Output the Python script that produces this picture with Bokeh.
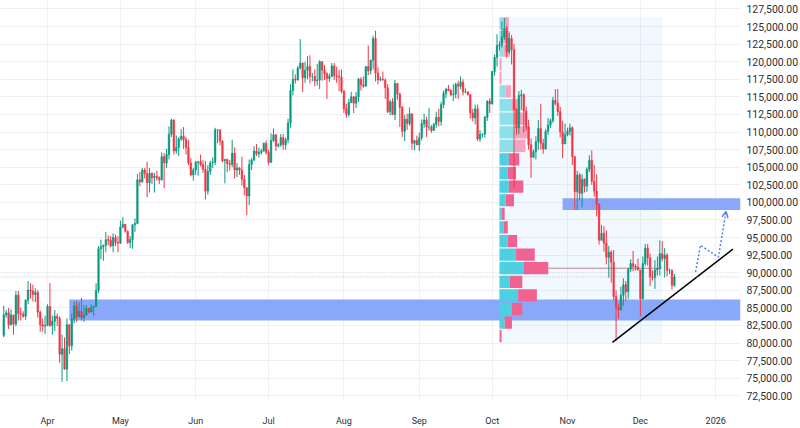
import numpy as np
import pandas as pd
from bokeh.plotting import figure
from bokeh.models import FixedTicker, NumeralTickFormatter, Range1d, Span, Arrow, OpenHead
from bokeh.embed import file_html
from bokeh.resources import INLINE

# ---------------- data (BTC/USD daily, values in thousands of USD) ----------------
start_date = "2025-03-14"
first_open = 81.1
closes = [
    84.0, 84.3, 82.6, 84.0, 82.7, 86.8, 84.2, 84.1, 83.8, 86.1, 87.5, 87.4, 86.9, 87.2, 84.4, 82.6, 82.4, 82.5,
    85.2, 82.5, 83.1, 83.8, 83.5, 78.4, 79.2, 76.3, 82.6, 79.6, 83.4, 85.3, 83.7, 84.5, 83.6, 84.0, 84.9, 84.4, 85.1, 85.2, 87.5, 93.4, 93.7, 93.9, 94.7, 94.6, 93.8, 95.0, 94.3, 94.2,
    96.5, 96.9, 95.9, 94.3, 94.7, 96.8, 97.0, 103.2, 102.9, 104.6, 104.1, 102.8, 104.1, 103.5, 103.7, 103.5, 103.2, 106.5, 105.6, 106.8, 109.7, 111.7, 107.3, 107.8, 109.0, 109.4, 108.9, 107.8, 105.6, 103.9, 104.6,
    105.7, 105.8, 105.4, 104.7, 101.6, 104.4, 105.6, 105.7, 110.3, 110.3, 108.7, 105.9, 106.1, 105.5, 105.4, 107.0, 104.6, 104.9, 104.6, 103.3, 102.1, 100.9, 105.4, 106.0, 107.3, 106.9, 107.1, 107.3, 108.4, 107.1,
    105.7, 108.8, 109.6, 108.0, 108.2, 109.2, 108.2, 108.9, 111.3, 115.9, 117.5, 117.4, 119.1, 119.8, 117.7, 118.8, 119.3, 117.9, 117.9, 117.3, 117.4, 120.0, 118.8, 118.3, 117.6, 117.9, 119.4, 118.0, 117.9, 117.8, 115.8,
    113.3, 112.5, 114.2, 115.0, 114.1, 115.0, 117.5, 116.7, 116.5, 119.3, 118.7, 120.2, 123.3, 118.4, 117.4, 117.5, 117.4, 116.3, 112.9, 114.3, 112.5, 116.9, 115.4, 113.5, 110.1, 111.8, 111.2, 112.6, 108.4, 108.8, 108.2,
    109.2, 111.2, 111.7, 110.7, 110.7, 110.2, 111.1, 112.1, 111.5, 113.9, 115.5, 116.1, 115.9, 115.3, 115.4, 116.8, 116.5, 117.1, 115.7, 115.7, 115.3, 112.7, 112.0, 113.3, 109.0, 109.7, 109.7, 112.1, 114.4, 114.0,
    118.6, 120.6, 122.3, 122.4, 123.5, 124.7, 121.4, 123.3, 121.7, 113.2, 110.6, 115.2, 115.3, 113.0, 110.7, 108.2, 106.4, 107.2, 108.6, 110.5, 108.4, 107.6, 110.1, 111.0, 111.6, 114.5, 114.1, 112.9, 110.0, 108.3, 109.6,
    110.1, 110.6, 106.5, 101.5, 103.9, 101.3, 103.3, 102.3, 104.7, 106.0, 103.0, 101.6, 99.7, 94.6, 95.6, 94.2, 92.2, 92.9, 91.5, 86.6, 85.1, 84.7, 86.8, 88.3, 87.3, 90.5, 91.3, 90.9, 90.8, 90.4,
    86.3, 91.3, 93.5, 92.1, 89.4, 89.3, 90.4, 90.6, 92.7, 92.0, 92.5, 90.3, 90.3, 88.2, 89.4,
]
highs = [
    85.3, 84.7, 85.0, 84.8, 84.0, 87.4, 87.4, 85.0, 84.5, 86.2, 88.8, 88.5, 88.3, 87.8, 87.5, 84.6, 83.5, 83.9,
    85.5, 88.5, 83.9, 84.7, 84.2, 83.8, 81.2, 80.8, 83.5, 82.7, 84.2, 85.9, 86.0, 85.8, 86.4, 85.4, 85.4, 85.0, 85.5, 85.3, 88.5, 93.8, 94.7, 94.0, 95.8, 95.3, 95.2, 95.6, 95.4, 95.2,
    97.4, 97.9, 96.9, 96.0, 95.2, 96.9, 97.7, 104.0, 104.3, 104.9, 104.9, 105.8, 104.9, 104.3, 104.2, 104.5, 103.7, 107.1, 107.0, 107.6, 110.8, 111.9, 111.8, 109.5, 109.3, 110.4, 110.7, 109.3, 108.9, 106.3, 104.9,
    105.9, 105.9, 106.8, 106.0, 105.9, 105.3, 105.9, 106.4, 110.6, 110.4, 110.4, 108.8, 106.2, 106.2, 106.0, 108.9, 107.8, 105.6, 105.0, 106.5, 103.9, 102.0, 106.1, 106.3, 108.0, 108.3, 107.8, 107.6, 108.5, 108.8,
    107.5, 109.8, 110.5, 109.7, 108.4, 109.7, 109.7, 109.2, 111.9, 116.8, 118.9, 118.2, 119.4, 123.2, 119.9, 120.0, 120.8, 120.9, 118.4, 118.9, 119.7, 120.2, 120.1, 119.5, 118.5, 118.3, 119.8, 119.8, 119.3, 118.8, 118.9,
    116.0, 114.0, 114.7, 115.7, 115.1, 115.7, 117.7, 117.8, 117.9, 119.3, 122.3, 120.3, 123.7, 124.4, 119.2, 117.9, 118.6, 117.6, 116.8, 114.6, 114.8, 117.4, 117.0, 115.6, 113.7, 112.4, 112.6, 113.5, 112.6, 108.9, 109.5,
    109.9, 111.8, 112.6, 112.2, 113.4, 111.0, 111.3, 112.9, 113.3, 114.3, 115.9, 116.3, 116.7, 116.1, 116.8, 117.0, 117.3, 117.9, 117.5, 116.2, 115.8, 115.4, 113.3, 113.9, 113.9, 110.3, 109.8, 112.3, 114.5, 114.8,
    118.7, 121.0, 123.9, 122.9, 125.7, 126.2, 125.1, 124.1, 123.8, 122.5, 113.4, 115.8, 116.0, 115.5, 113.6, 111.7, 109.1, 107.5, 109.4, 111.7, 114.0, 109.0, 110.4, 112.0, 111.9, 115.0, 116.1, 116.1, 113.6, 111.6, 111.2,
    110.6, 111.2, 110.8, 106.6, 104.5, 104.2, 104.0, 103.4, 105.0, 106.7, 107.4, 105.3, 104.0, 99.9, 96.8, 96.6, 96.0, 93.8, 93.2, 93.2, 87.5, 85.6, 88.0, 89.2, 88.8, 90.7, 91.9, 93.1, 91.2, 92.0,
    90.4, 92.3, 94.1, 94.1, 92.7, 90.3, 91.8, 92.3, 94.6, 94.5, 93.5, 92.8, 90.6, 90.5, 89.8,
]
lows = [
    80.8, 83.6, 82.0, 82.5, 81.2, 82.4, 83.2, 83.2, 83.6, 83.3, 85.5, 86.3, 85.9, 85.8, 83.6, 81.6, 81.6, 81.3,
    82.4, 82.3, 81.2, 81.7, 82.4, 77.2, 74.5, 76.2, 74.6, 78.4, 78.9, 82.8, 83.0, 83.7, 83.2, 83.0, 83.9, 84.2, 84.4, 83.9, 85.1, 87.1, 91.9, 91.7, 92.9, 93.9, 93.6, 92.9, 93.8, 92.9,
    94.1, 96.3, 95.7, 94.1, 93.5, 93.4, 95.8, 96.9, 102.3, 102.8, 103.4, 100.7, 101.4, 102.6, 101.4, 103.1, 102.6, 103.1, 102.0, 104.9, 106.1, 109.3, 106.8, 106.9, 106.6, 108.7, 107.6, 106.8, 105.3, 103.7, 103.1,
    103.9, 103.8, 105.1, 104.2, 100.4, 101.1, 103.9, 104.9, 105.3, 108.4, 108.1, 105.7, 102.7, 104.3, 104.5, 105.0, 103.4, 103.6, 103.9, 102.4, 101.0, 98.2, 99.6, 104.6, 105.9, 106.6, 106.4, 106.8, 107.2, 106.8,
    105.3, 105.6, 108.6, 107.3, 107.8, 107.9, 107.5, 107.5, 108.4, 110.6, 115.2, 116.9, 117.3, 118.9, 115.7, 117.0, 117.5, 116.9, 117.2, 116.5, 116.6, 116.1, 117.3, 117.4, 114.7, 117.1, 117.8, 117.4, 117.0, 115.8, 115.5,
    112.7, 112.0, 112.2, 114.1, 112.7, 113.4, 114.3, 115.9, 116.3, 116.5, 118.1, 118.2, 118.9, 117.2, 116.8, 117.2, 117.3, 114.7, 112.7, 112.4, 112.4, 111.7, 114.6, 110.7, 109.3, 108.7, 110.3, 110.9, 107.5, 107.4, 108.1,
    107.3, 108.8, 110.6, 109.3, 110.2, 109.9, 110.2, 110.6, 110.8, 110.9, 113.4, 114.8, 115.8, 115.1, 114.4, 114.8, 114.7, 116.1, 115.2, 115.5, 115.2, 111.9, 111.5, 111.1, 108.7, 108.6, 109.2, 109.2, 111.6, 112.7,
    113.9, 118.0, 119.3, 121.6, 122.0, 123.1, 120.6, 121.1, 119.6, 102.0, 109.6, 109.7, 113.1, 109.9, 110.2, 107.5, 103.5, 106.3, 106.1, 107.5, 107.5, 106.9, 107.5, 109.6, 110.6, 111.3, 113.8, 112.3, 109.2, 106.3, 108.6,
    109.4, 109.5, 105.3, 98.9, 98.9, 100.3, 99.3, 101.4, 101.5, 104.3, 102.5, 100.8, 98.0, 94.0, 94.6, 93.0, 91.2, 89.3, 88.6, 86.1, 80.3, 83.5, 84.7, 85.3, 86.1, 86.3, 90.1, 90.2, 90.3, 90.3,
    83.8, 86.2, 91.0, 91.0, 88.1, 88.9, 87.7, 89.6, 89.6, 91.6, 89.3, 89.5, 89.8, 87.6, 88.0,
]
opens = [first_open] + closes[:-1]

month_ticks = ["2025-04-01", "2025-05-01", "2025-06-01", "2025-07-01", "2025-08-01",
               "2025-09-01", "2025-10-01", "2025-11-01", "2025-12-01", "2026-01-01"]
month_labels = ["Apr", "May", "Jun", "Jul", "Aug", "Sep", "Oct", "Nov", "Dec", "2026"]
price_ticks = list(range(72500, 127501, 2500))

# fixed range volume profile (relative volumes per price row, bottom -> top)
vp_start, vp_end = "2025-10-04", "2025-12-10"
vp_low, vp_high = 80.0, 126.4
vp_up = [0.5, 5, 12, 18, 10, 23, 16, 8, 4, 2, 6, 9, 8, 9, 15, 15, 14, 12, 6, 0.5, 0.5, 4, 4, 4]
vp_down = [1.5, 7, 10, 18, 12, 24, 18, 9, 4, 3, 8, 14, 8, 10, 10, 14, 12, 6, 5, 1.5, 1.5, 6, 6, 5]
vp_value_area_top_row = 13

# drawings
support_zone = ("2025-04-10", 83.2, 86.2)
resistance_zone = ("2025-10-30", 98.9, 100.6)
trend_dates = ["2025-11-19 12:00", "2026-01-08 02:00"]
trend_prices = [80.1, 93.35]
proj_dates = ["2025-12-23 17:00", "2025-12-25 17:00", "2026-01-02 02:00", "2026-01-05 06:00"]
proj_prices = [90.1, 93.9, 92.2, 98.7]

# ---------------- build ----------------
assert len(closes) == len(highs) == len(lows), (len(closes), len(highs), len(lows))
ORIGIN = pd.Timestamp("2025-04-01")


def day(d):
    return (pd.Timestamp(d) - ORIGIN) / pd.Timedelta(days=1)


K = 1000.0
dates = pd.date_range(start_date, periods=len(closes), freq="D")
xs = np.array([day(d) for d in dates])
o = np.array(opens) * K
c = np.array(closes) * K
h = np.array(highs) * K
l = np.array(lows) * K
up = c >= o

UP_COL = "#089981"
DN_COL = "#f23645"

X0, X1 = -19.34, 285.2
p = figure(frame_width=740, frame_height=400, output_backend="svg", toolbar_location=None,
           x_range=Range1d(X0, X1), y_range=Range1d(71829, 128700),
           y_axis_location="right", min_border=0, min_border_left=0, min_border_top=0,
           min_border_bottom=0, min_border_right=0,
           background_fill_color="white", border_fill_color="white", outline_line_color=None)

tick_pos = [int(day(t)) for t in month_ticks]
p.xaxis.ticker = FixedTicker(ticks=tick_pos)
p.xaxis.major_label_overrides = {t: lab for t, lab in zip(tick_pos, month_labels)}
p.yaxis.ticker = FixedTicker(ticks=price_ticks)
p.yaxis.formatter = NumeralTickFormatter(format="0,0.00")
p.xgrid.ticker = FixedTicker(ticks=tick_pos)
p.ygrid.ticker = FixedTicker(ticks=price_ticks)
for g in (p.xgrid, p.ygrid):
    g.grid_line_color = "#eef0f4"
    g.grid_line_width = 1
for ax in (p.xaxis, p.yaxis):
    ax.axis_line_color = None
    ax.major_tick_line_color = None
    ax.minor_tick_line_color = None
    ax.major_tick_out = 0
    ax.major_label_text_font = "Roboto"
    ax.major_label_text_color = "#2a2e39"
p.yaxis.major_label_text_font_size = "10.4px"
p.yaxis.major_label_standoff = 6
p.xaxis.major_label_text_font_size = "9px"
p.xaxis.major_label_standoff = 15

# volume profile background
vx0, vx1 = day(vp_start), day(vp_end)
p.quad(left=[vx0], right=[vx1], bottom=[vp_low * K], top=[vp_high * K],
       fill_color="#2196f3", fill_alpha=0.06, line_color=None)

# zones
for zs, zlo, zhi in (support_zone, resistance_zone):
    p.quad(left=[day(zs)], right=[X1], bottom=[zlo * K], top=[zhi * K],
           fill_color="#8aa8f9", line_color=None)

# volume profile rows
nrows = len(vp_up)
row_h = (vp_high - vp_low) / nrows * K
centers = vp_low * K + row_h * (np.arange(nrows) + 0.5)
tot = np.array(vp_up) + np.array(vp_down)
scale = 0.3 * (vx1 - vx0) / tot.max()
w_up = np.array(vp_up) * scale
w_dn = np.array(vp_down) * scale
in_va = np.arange(nrows) <= vp_value_area_top_row
up_cols = np.where(in_va, "#4dd0e1", "#8fdfea")
dn_cols = np.where(in_va, "#f06292", "#f5a3c0")
p.hbar(y=centers, height=row_h * 0.9, left=vx0, right=vx0 + w_up, fill_color=list(up_cols), line_color=None)
p.hbar(y=centers, height=row_h * 0.9, left=vx0 + w_up, right=vx0 + w_up + w_dn,
       fill_color=list(dn_cols), line_color=None)
poc = int(np.argmax(tot))
p.segment(x0=[vx0 + tot[poc] * scale], x1=[vx1], y0=[centers[poc]], y1=[centers[poc]],
          line_color="#b98590", line_width=1)

# last price line
p.add_layout(Span(location=c[-1], dimension="width", line_color="#9aa3ad",
                  line_alpha=0.7, line_dash="1 2", line_width=1))

# candles
cols = np.where(up, UP_COL, DN_COL)
p.segment(x0=xs, x1=xs, y0=l, y1=h, line_color=list(cols), line_width=1)
p.vbar(x=xs, width=0.66, top=np.maximum(o, c), bottom=np.minimum(o, c),
       fill_color=list(cols), line_color=list(cols), line_width=0.5)

# trend line
p.line([day(d) for d in trend_dates], np.array(trend_prices) * K, line_color="black", line_width=1.5)

# projected path (dotted) with arrow head
px_ = [day(d) for d in proj_dates]
py_ = list(np.array(proj_prices) * K)
p.line(px_, py_, line_color="#5a7cf0", line_width=1.5, line_dash="2 2")
p.add_layout(Arrow(end=OpenHead(size=6, line_color="#5a7cf0", line_width=1.5),
                   x_start=px_[-2], y_start=py_[-2], x_end=px_[-1], y_end=py_[-1], line_alpha=0))

open("out.html", "w").write(file_html(p, INLINE))
